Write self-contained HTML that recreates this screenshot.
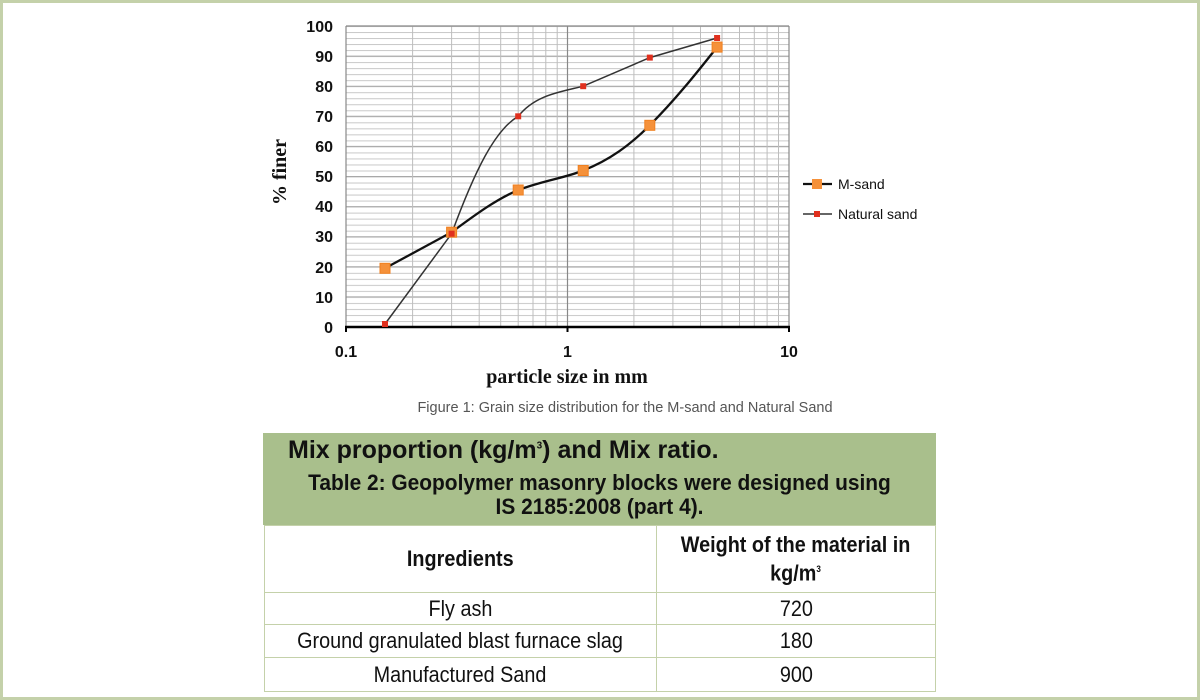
<!DOCTYPE html>
<html><head><meta charset="utf-8"><style>
html,body{margin:0;padding:0;background:#fff}
body{width:1200px;height:700px;position:relative;overflow:hidden;font-family:"Liberation Sans",Arial,sans-serif}
.frame{position:absolute;left:0;top:0;width:1194px;height:694px;border:3px solid #c4d1aa}
table{border-collapse:collapse}
td span{display:inline-block;transform:scaleX(0.9)}
</style></head><body>
<div class="frame"></div>
<svg width="1200" height="700" style="position:absolute;left:0;top:0">
<defs>
<pattern id="hg" x="0" y="26" width="10" height="6.02" patternUnits="userSpaceOnUse">
<line x1="0" y1="0.5" x2="10" y2="0.5" stroke="#c8c8c8" stroke-width="1"/>
</pattern>
</defs>
<rect x="346" y="26" width="443" height="301" fill="url(#hg)"/>
<g stroke="#a8a8a8" stroke-width="1">
<line x1="346" y1="56.1" x2="789" y2="56.1"/><line x1="346" y1="86.2" x2="789" y2="86.2"/><line x1="346" y1="116.3" x2="789" y2="116.3"/><line x1="346" y1="146.4" x2="789" y2="146.4"/><line x1="346" y1="176.5" x2="789" y2="176.5"/><line x1="346" y1="206.6" x2="789" y2="206.6"/><line x1="346" y1="236.7" x2="789" y2="236.7"/><line x1="346" y1="266.8" x2="789" y2="266.8"/><line x1="346" y1="296.9" x2="789" y2="296.9"/>
</g>
<g stroke="#bdbdbd" stroke-width="1">
<line x1="412.6" y1="26" x2="412.6" y2="327"/><line x1="451.6" y1="26" x2="451.6" y2="327"/><line x1="479.2" y1="26" x2="479.2" y2="327"/><line x1="500.7" y1="26" x2="500.7" y2="327"/><line x1="518.2" y1="26" x2="518.2" y2="327"/><line x1="533" y1="26" x2="533" y2="327"/><line x1="545.8" y1="26" x2="545.8" y2="327"/><line x1="557.2" y1="26" x2="557.2" y2="327"/>
<line x1="633.9" y1="26" x2="633.9" y2="327"/><line x1="672.9" y1="26" x2="672.9" y2="327"/><line x1="700.5" y1="26" x2="700.5" y2="327"/><line x1="722" y1="26" x2="722" y2="327"/><line x1="739.5" y1="26" x2="739.5" y2="327"/><line x1="754.3" y1="26" x2="754.3" y2="327"/><line x1="767.1" y1="26" x2="767.1" y2="327"/><line x1="778.5" y1="26" x2="778.5" y2="327"/>
</g>
<g stroke="#888" stroke-width="1.2">
<line x1="346" y1="26" x2="789" y2="26"/><line x1="346" y1="26" x2="346" y2="327"/><line x1="567.5" y1="26" x2="567.5" y2="327"/><line x1="789" y1="26" x2="789" y2="327"/>
</g>
<line x1="345" y1="327" x2="790" y2="327" stroke="#000" stroke-width="2.5"/>
<g stroke="#000" stroke-width="2"><line x1="346" y1="327" x2="346" y2="332"/><line x1="567.5" y1="327" x2="567.5" y2="332"/><line x1="789" y1="327" x2="789" y2="332"/></g>
<path d="M385,324 L451.6,233.7 C475,170 495,130 518.2,116.3 C535,95 560,92 583.2,86.2 L649.8,57.6 L717.1,38" fill="none" stroke="#333" stroke-width="1.5"/>
<path d="M385,268.3 L451.6,232.2 C475,215 495,200 518.2,190 C545,180 565,178 583.2,170.5 C610,160 630,145 649.8,125.3 C675,100 695,75 717.1,47.1" fill="none" stroke="#111" stroke-width="2.3"/>
<g fill="#f5913a" stroke="#f08020">
<rect x="380" y="263.3" width="10" height="10"/><rect x="446.6" y="227.2" width="10" height="10"/><rect x="513.2" y="185" width="10" height="10"/><rect x="578.2" y="165.5" width="10" height="10"/><rect x="644.8" y="120.3" width="10" height="10"/><rect x="712.1" y="42.1" width="10" height="10"/>
</g>
<g fill="#e0301e">
<rect x="382" y="321" width="6" height="6"/><rect x="448.6" y="230.7" width="6" height="6"/><rect x="515.2" y="113.3" width="6" height="6"/><rect x="580.2" y="83.2" width="6" height="6"/><rect x="646.8" y="54.6" width="6" height="6"/><rect x="714.1" y="35" width="6" height="6"/>
</g>
<g font-family="Liberation Sans,sans-serif" font-weight="bold" font-size="16" text-anchor="end" fill="#111">
<text x="333" y="32">100</text><text x="333" y="62">90</text><text x="333" y="92">80</text><text x="333" y="122">70</text><text x="333" y="152">60</text><text x="333" y="182">50</text><text x="333" y="212">40</text><text x="333" y="242">30</text><text x="333" y="273">20</text><text x="333" y="303">10</text><text x="333" y="333">0</text>
</g>
<g font-family="Liberation Sans,sans-serif" font-weight="bold" font-size="16" text-anchor="middle" fill="#111">
<text x="346" y="357">0.1</text><text x="567.5" y="357">1</text><text x="789" y="357">10</text>
</g>
<text x="567" y="383" font-family="Liberation Serif,serif" font-weight="bold" font-size="20" text-anchor="middle" fill="#111">particle size in mm</text>
<text transform="translate(286,172) rotate(-90)" font-family="Liberation Serif,serif" font-weight="bold" font-size="20" text-anchor="middle" fill="#111">% finer</text>
<line x1="803" y1="184" x2="832" y2="184" stroke="#111" stroke-width="2.3"/><rect x="812" y="179" width="10" height="10" fill="#f5913a"/>
<text x="838" y="189" font-size="14" fill="#111">M-sand</text>
<line x1="803" y1="214" x2="832" y2="214" stroke="#333" stroke-width="1.5"/><rect x="814" y="211" width="6" height="6" fill="#e0301e"/>
<text x="838" y="219" font-size="14" fill="#111">Natural sand</text>
<text x="625" y="412" font-size="14.5" text-anchor="middle" fill="#555">Figure 1: Grain size distribution for the M-sand and Natural Sand</text>
</svg>
<div style="position:absolute;left:263px;top:433px;width:673px;height:92px;background:#a9bf8c"></div>
<div style="position:absolute;left:288px;top:436px;font-size:25px;font-weight:bold;color:#111">Mix proportion (kg/m<sup style="font-size:10px">3</sup>) and Mix ratio.</div>
<div style="position:absolute;left:263px;top:471px;width:673px;text-align:center;font-size:22px;font-weight:bold;line-height:24px;color:#111;transform:scaleX(0.95)">Table 2: Geopolymer masonry blocks were designed using<br>IS 2185:2008 (part 4).</div>
<table style="position:absolute;left:264px;top:525px;width:672px;font-size:22px;color:#111">
<tr style="height:67px"><td style="width:389px;border:1.5px solid #c4d1aa;text-align:center;font-weight:bold"><span>Ingredients</span></td><td style="border:1.5px solid #c4d1aa;text-align:center;font-weight:bold;line-height:25px"><span>Weight of the material in<br>kg/m<sup style="font-size:9px">3</sup></span></td></tr>
<tr style="height:32px"><td style="border:1.5px solid #c4d1aa;text-align:center"><span>Fly ash</span></td><td style="border:1.5px solid #c4d1aa;text-align:center"><span>720</span></td></tr>
<tr style="height:33px"><td style="border:1.5px solid #c4d1aa;text-align:center"><span>Ground granulated blast furnace slag</span></td><td style="border:1.5px solid #c4d1aa;text-align:center"><span>180</span></td></tr>
<tr style="height:34px"><td style="border:1.5px solid #c4d1aa;text-align:center"><span>Manufactured Sand</span></td><td style="border:1.5px solid #c4d1aa;text-align:center"><span>900</span></td></tr>
</table>
</body></html>
